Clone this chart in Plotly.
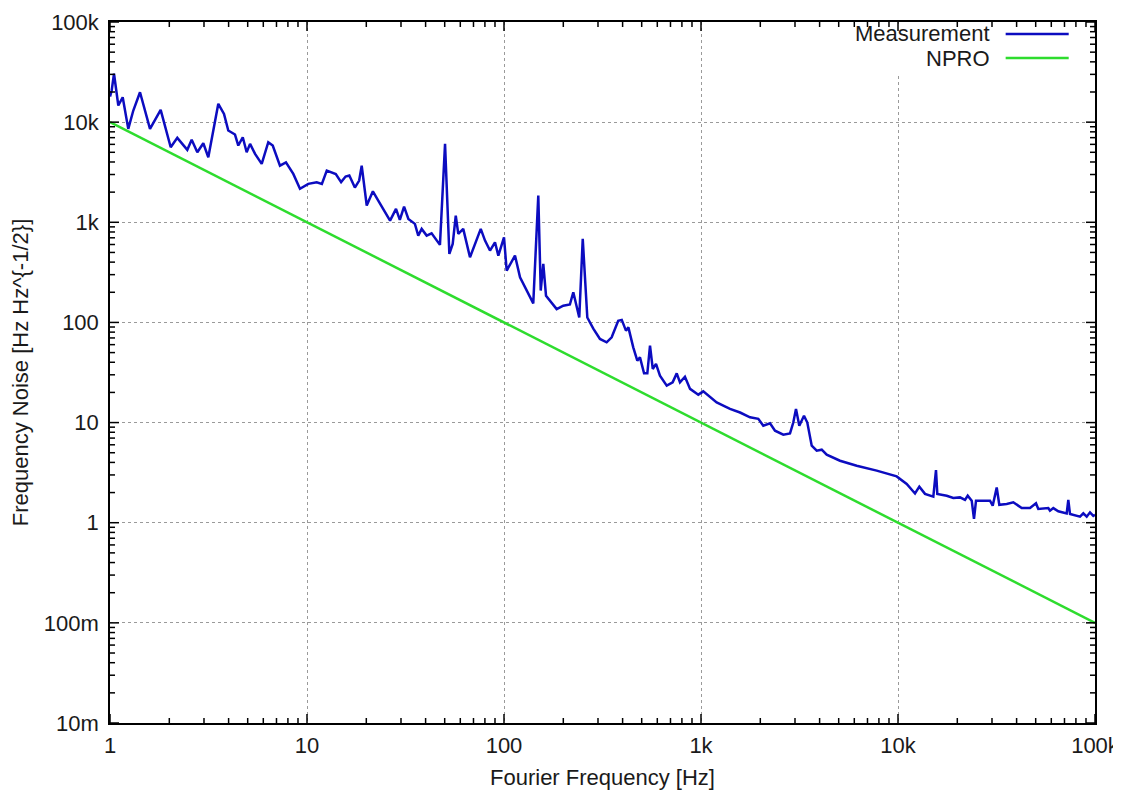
import math
import plotly.graph_objects as go

# Measurement: Fourier frequency [Hz] and frequency noise [Hz/sqrt(Hz)]
meas_freq = [1.0, 1.02, 1.048, 1.102, 1.16, 1.238, 1.313, 1.42, 1.596, 1.808,
             2.033, 2.196, 2.468, 2.598, 2.775, 2.976, 3.155, 3.546, 3.791, 3.985,
             4.31, 4.48, 4.72, 4.94, 5.14, 5.45, 5.89, 6.36, 6.70, 7.29,
             7.82, 8.52, 9.21, 10.15, 11.2, 11.9, 12.6, 14.0, 14.9, 15.7,
             16.4, 17.5, 18.4, 18.95, 20.1, 21.6, 23.0, 26.4, 28.3, 29.6,
             31.1, 32.7, 35.3, 36.7, 38.2, 40.5, 42.9, 47.3, 50.2, 52.8,
             54.9, 56.9, 58.6, 62.1, 67.2, 71.3, 76.2, 80.1, 84.9, 90.0,
             93.6, 100, 103.2, 113.7, 120.6, 140.8, 149.3, 153.6, 158.3, 163.4,
             185.1, 200, 216, 224.8, 241, 251, 264.8, 284, 307, 332,
             352, 380, 396, 416, 428, 453, 475, 490, 514, 534,
             551, 569, 591, 619, 670, 718, 753, 782, 829, 880,
             969, 1027, 1111, 1201, 1298, 1404, 1578, 1774, 1954, 2071,
             2240, 2375, 2617, 2830, 2941, 3035, 3155, 3333, 3464, 3648,
             3867, 4100, 4346, 5077, 6172, 7796, 9849, 11070, 12200, 12830,
             13710, 15110, 15590, 15830, 17670, 19090, 20640, 21880, 22590, 23670,
             24310, 24890, 29310, 30250, 31700, 32680, 35630, 38480, 42460, 46790,
             50180, 51540, 57950, 59090, 61420, 65120, 71830, 73200, 74670, 83930,
             87220, 90760, 94320, 98030, 100000]
meas_noise = [18000, 20700, 30400, 14650, 17740, 8570, 13060, 19900, 8570, 13270,
              5610, 6970, 5290, 6660, 5000, 6150, 4460, 15240, 12100, 8240,
              7520, 5840, 7070, 5000, 6070, 4820, 3830, 6300, 5840, 3680,
              3970, 3040, 2160, 2420, 2510, 2420, 3280, 3030, 2520, 2860,
              2930, 2220, 2610, 3680, 1470, 2040, 1650, 1040, 1360, 1057,
              1435, 1081, 964, 736, 859, 736, 776, 595, 6070, 483,
              608, 1167, 766, 859, 447, 608, 859, 656, 522, 631,
              465, 708, 329, 465, 282, 155, 1849, 208, 384, 185,
              136, 147, 151, 200, 112, 682, 112, 86.7, 68.4, 63.3,
              71.0, 104, 106, 82.8, 89.3, 56.4, 41.5, 44.8, 31.0, 31.0,
              58.7, 34.3, 38.5, 29.4, 23.4, 25.2, 31.0, 25.2, 28.7, 21.7,
              19.0, 20.5, 17.9, 15.9, 14.8, 13.7, 12.6, 11.3, 10.9, 9.31,
              9.82, 8.30, 7.57, 7.80, 10.0, 13.7, 9.31, 11.7, 10.0, 5.88,
              5.24, 5.36, 4.78, 4.16, 3.71, 3.31, 2.90, 2.44, 1.96, 2.29,
              1.94, 1.82, 3.36, 1.94, 1.86, 1.77, 1.79, 1.69, 1.86, 1.66,
              1.09, 1.66, 1.66, 1.48, 2.25, 1.51, 1.54, 1.60, 1.40, 1.40,
              1.56, 1.37, 1.40, 1.32, 1.40, 1.30, 1.24, 1.69, 1.22, 1.15,
              1.24, 1.15, 1.27, 1.17, 1.20]

# NPRO free-running noise (straight line on log-log)
npro_freq = [1, 100000]
npro_noise = [10000, 0.1]

series_names = ["Measurement", "NPRO"]

# Tick labels
x_tickvals = [1, 10, 100, 1000, 10000, 100000]
x_ticktext = ["1", "10", "100", "1k", "10k", "100k"]
y_tickvals = [0.01, 0.1, 1, 10, 100, 1000, 10000, 100000]
y_ticktext = ["10m", "100m", "1", "10", "100", "1k", "10k", "100k"]

BLUE = "#0c0cc0"
GREEN = "#2edc2e"
FONT = "Liberation Sans, Arial, sans-serif"
TXT = "#1a1a1a"
FS = 22
XR = [0, 5]
YR = [-2, 5]

fig = go.Figure()
fig.add_trace(go.Scatter(x=meas_freq, y=meas_noise, mode="lines", name=series_names[0],
                         line=dict(color=BLUE, width=2.5), showlegend=False))
fig.add_trace(go.Scatter(x=npro_freq, y=npro_noise, mode="lines", name=series_names[1],
                         line=dict(color=GREEN, width=2.5), showlegend=False))

fig.update_xaxes(
    type="log", range=XR, showline=True, linecolor="black", linewidth=1.5, mirror=True,
    ticks="", automargin=False,
    showgrid=True, gridcolor="#9a9a9a", griddash="dot", gridwidth=1, zeroline=False,
    tickmode="array", tickvals=x_tickvals, ticktext=x_ticktext,
    tickfont=dict(family=FONT, size=FS, color=TXT), ticklabelstandoff=2,
    title=dict(text="Fourier Frequency [Hz]", font=dict(family=FONT, size=FS, color=TXT), standoff=20),
)
fig.update_yaxes(
    type="log", range=YR, showline=True, linecolor="black", linewidth=1.5, mirror=True,
    ticks="", automargin=False,
    showgrid=True, gridcolor="#9a9a9a", griddash="dot", gridwidth=1, zeroline=False,
    tickmode="array", tickvals=y_tickvals, ticktext=y_ticktext,
    tickfont=dict(family=FONT, size=FS, color=TXT), ticklabelstandoff=5,
    title=dict(text="Frequency Noise [Hz Hz^{-1/2}]", font=dict(family=FONT, size=FS, color=TXT), standoff=10),
)

# Legend (text on the left, line sample on the right) with an opaque box
fig.add_shape(type="rect", xref="paper", yref="paper", x0=0.75, x1=0.99, y0=0.923, y1=0.997,
              fillcolor="white", line=dict(width=0), layer="above")
legend_rows = [(0.9829, BLUE), (0.9486, GREEN)]
for name, (yy, col) in zip(series_names, legend_rows):
    fig.add_annotation(x=0.8955, y=yy, xref="paper", yref="paper", text=name, showarrow=False,
                       xanchor="right", yanchor="middle", font=dict(family=FONT, size=FS, color=TXT))
    fig.add_shape(type="line", xref="paper", yref="paper", x0=0.9093, x1=0.9733, y0=yy, y1=yy,
                  line=dict(color=col, width=2.5), layer="above")

# Inside tick marks on all four sides (major every decade, minor at 2..9)
def frac(v, rng):
    return (math.log10(v) - rng[0]) / (rng[1] - rng[0])

tick_line = dict(color="black", width=1.5)
for vals, rng, is_x in ((x_tickvals, XR, True), (y_tickvals, YR, False)):
    marks = [(v, 9) for v in vals] + [(m * v, 5) for v in vals[:-1] for m in range(2, 10)]
    for v, length in marks:
        p = frac(v, rng)
        for side, sign in ((0, 1), (1, -1)):
            if is_x:
                fig.add_shape(type="line", xref="paper", yref="paper", x0=p, x1=p,
                              ysizemode="pixel", yanchor=side, y0=0, y1=sign * length,
                              line=tick_line, layer="above")
            else:
                fig.add_shape(type="line", xref="paper", yref="paper", y0=p, y1=p,
                              xsizemode="pixel", xanchor=side, x0=0, x1=sign * length,
                              line=tick_line, layer="above")

# page body adds an 8px offset; compensate so the plot area lands at x 110-1095, y 22-723
fig.update_layout(
    width=1113, height=782,
    margin=dict(l=102, r=26, t=14, b=67),
    paper_bgcolor="white", plot_bgcolor="white",
)

fig.write_html("out.html")
